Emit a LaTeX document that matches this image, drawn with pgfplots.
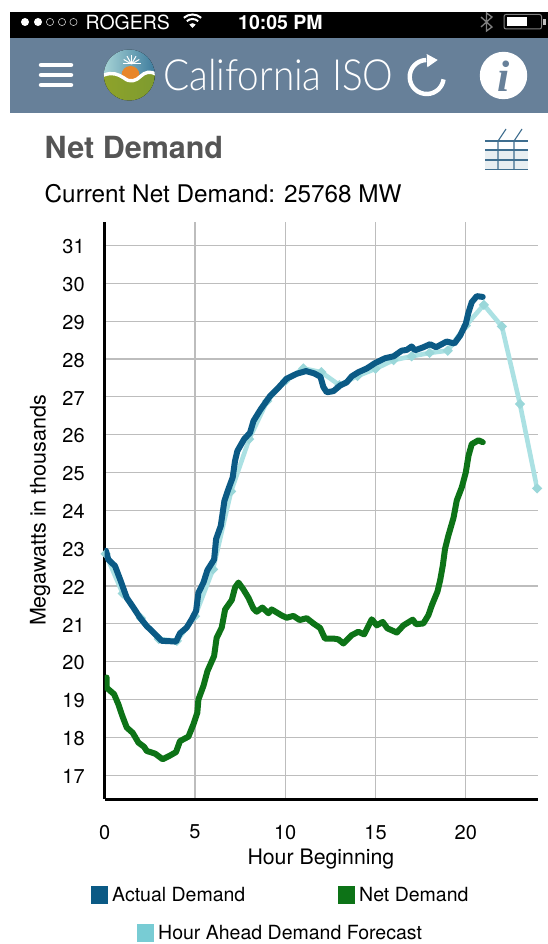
\documentclass[border=0pt]{standalone}
\usepackage{fontspec}
\setmainfont{TeX Gyre Heros}
\newfontfamily\calfont{Lato Light}
\newfontfamily\serifi{Liberation Serif}
\usepackage{pgfplots}
\pgfplotsset{compat=1.18}
\definecolor{hdr}{HTML}{678099}
\definecolor{actual}{HTML}{0B5A85}
\definecolor{net}{HTML}{0D7317}
\definecolor{fc}{HTML}{ABE1E3}
\definecolor{fcleg}{HTML}{78CCD4}
\definecolor{gridc}{HTML}{BDBDBD}
\definecolor{ttl}{HTML}{555555}
\definecolor{ico}{HTML}{3F6E8F}
\definecolor{skyl}{HTML}{A7D4D6}
\definecolor{skyr}{HTML}{3C7A9C}
\definecolor{grl}{HTML}{8FA32A}
\definecolor{grr}{HTML}{7C9A30}
\definecolor{grm}{HTML}{A9C04E}
\definecolor{orng}{HTML}{E8862A}
\begin{document}
\begin{tikzpicture}[x=1pt,y=-1pt]
\path[use as bounding box] (0,0) rectangle (548,944);
\fill[white] (0,0) rectangle (548,944);
% status bar + header
\fill[black] (10,12) rectangle (548,38);
\fill[hdr] (10,38) rectangle (548,113);
\foreach \cx in {25,38}{\fill[white] (\cx,22) circle (4);}
\foreach \cx in {50,62,73.5}{\draw[white!80!black,line width=.6pt] (\cx,22) circle (3.6);}
\node[white,anchor=west,inner sep=0,font=\fontsize{19.5}{20}\selectfont] at (85.5,22.5) {ROGERS};
\begin{scope}[white,line width=2pt]
\draw (192.5,27.5) ++(-132:13) arc[start angle=-132,end angle=-48,radius=13];
\draw (192.5,27.5) ++(-132:8.5) arc[start angle=-132,end angle=-48,radius=8.5];
\end{scope}
\fill[white] (192.5,28) -- ++(-132:4.8) arc[start angle=-132,end angle=-48,radius=4.8] -- cycle;
\node[white,anchor=west,inner sep=0,font=\fontsize{19.5}{20}\selectfont\bfseries] at (238,22.5) {10:05 PM};
\draw[gray,line width=1.3pt] (481,17) -- (492,27) -- (486.5,31) -- (486.5,13) -- (492,17) -- (481,27);
\draw[gray,line width=1pt,rounded corners=2pt] (504,14.5) rectangle (541.5,29);
\fill[white] (507,17) rectangle (526.5,26.5);
\fill[white!75!black] (543,19) rectangle (546,25);
% hamburger
\foreach \ly in {65,75,85}{\draw[white,line width=4.5pt,line cap=round] (41,\ly) -- (71,\ly);}
% logo
\begin{scope}
\clip (129.3,75) circle (25.5);
\fill[left color=skyl,right color=skyr] (103,49) rectangle (156,80);
\foreach \a in {0,30,...,180}{\draw[white,line width=1pt] (131.5,64) -- ++(-\a:9);}
\fill[orng] (130.5,75) circle (9);
\fill[left color=grl,middle color=grm,right color=grr] (100,75) -- (104,75) .. controls (112,72) and (118,74) .. (124,78) .. controls (130,83) and (136,81) .. (141,76) .. controls (145,72) and (150,71) .. (156,74) -- (160,74) -- (160,105) -- (100,105) -- cycle;
\draw[white,line width=3.4pt] (100,76) -- (104,75) .. controls (112,72) and (118,74) .. (124,78) .. controls (130,83) and (136,81) .. (141,76) .. controls (145,72) and (150,71) .. (156,74);
\end{scope}
\node[white,anchor=west,inner sep=0,xscale=.9,font=\calfont\fontsize{43}{45}\selectfont] at (163,75) {California ISO};
% refresh
\draw[white,line width=4.4pt] (426.7,77) ++(268:17) arc[start angle=268,end angle=8,radius=17];
\fill[white] (426.7,54) -- (437.7,60) -- (427.3,67.3) -- cycle;
% info
\fill[white] (503.5,75.5) circle (23.7);
\node[hdr,inner sep=0,font=\serifi\bfseries\itshape\fontsize{44}{44}\selectfont] at (503.5,76.5) {i};
% page title
\node[ttl,anchor=west,inner sep=0,font=\fontsize{30.5}{32}\selectfont\bfseries] at (44.5,148) {Net Demand};
\node[black,anchor=west,inner sep=0,font=\fontsize{24.3}{26}\selectfont] at (44.5,194) {Current Net Demand: 25768 MW};
% grid icon
\fill[ico!12] (485,150) rectangle (528,170);
\foreach \ly in {141,150,160,169.5}{\draw[ico,line width=1.3pt] (485,\ly) -- (528,\ly);}
\foreach \lx in {498,514}{\draw[ico,line width=1.1pt] (\lx,170) -- (\lx,141) -- (\lx+8,129);}
% chart
\begin{axis}[
  at={(104.7pt,-799pt)},anchor=south west,
  scale only axis,width=433.3pt,height=577pt,
  xmin=0,xmax=24,ymin=16.37,ymax=31.62,
  axis x line=bottom,axis y line=left,
  axis line style={-,line width=3pt,black},
  xtick={0,5,10,15,20},ytick={17,18,...,31},
  major tick length=0pt,
  grid=major,grid style={gridc,line width=1.1pt},
  ticklabel style={font=\fontsize{20}{22}\selectfont,black},
  /pgf/number format/assume math mode=true,
  xticklabel style={yshift=-22.5pt},
  yticklabel style={xshift=-16.5pt,yshift=-1.3pt},
  xlabel={Hour Beginning},ylabel={Megawatts in thousands},
  every axis x label/.style={at={(axis description cs:0.499,-0.1035)},anchor=center,font=\fontsize{21.3}{23}\selectfont},
  every axis y label/.style={at={(axis description cs:-0.149,0.5)},rotate=90,anchor=center,font=\fontsize{21.5}{23}\selectfont},
  clip=true,clip mode=individual,
]
\addplot[fc,line width=4.6pt,mark=*,mark size=1.9pt,mark options={fc!90!teal,draw=none}] coordinates {
(0.05,22.85)(1,21.8)(2,21.15)(3,20.6)(4,20.55)(5,21.2)(6,22.44)(7,24.5)(8,25.88)(9,26.89)(10,27.42)(11,27.75)(12,27.65)(13,27.31)(14,27.55)(15,27.74)(16,27.97)(17,28.07)(18,28.16)(19,28.22)(20,28.88)(21,29.43)(22,28.86)(23,26.81)(23.95,24.58)};
\addplot[actual,line width=6pt,line join=round,line cap=round] coordinates {
(0.07,22.93)(0.2,22.70)(0.57,22.53)(0.85,22.18)(1.22,21.69)(1.59,21.43)(1.96,21.16)(2.33,20.94)(2.7,20.77)(3.16,20.55)(3.62,20.54)(3.95,20.53)(4.17,20.75)(4.54,20.90)(4.82,21.12)(5.06,21.34)(5.19,21.82)(5.47,22.09)(5.69,22.42)(6.06,22.70)(6.17,23.24)(6.43,23.59)(6.63,24.25)(6.85,24.56)(7.09,24.87)(7.22,25.31)(7.35,25.57)(7.72,25.88)(8.05,26.05)(8.24,26.36)(8.64,26.67)(9.16,27.02)(9.62,27.24)(10.08,27.48)(10.64,27.61)(11.15,27.68)(11.6,27.62)(11.95,27.53)(12.11,27.26)(12.3,27.12)(12.67,27.15)(13.04,27.30)(13.4,27.38)(13.68,27.54)(14.05,27.65)(14.52,27.75)(14.97,27.89)(15.53,28.02)(16.0,28.07)(16.45,28.22)(16.73,28.24)(17.0,28.33)(17.19,28.23)(17.65,28.31)(18.02,28.39)(18.35,28.31)(18.94,28.46)(19.37,28.41)(19.69,28.62)(20.0,28.93)(20.15,29.23)(20.33,29.50)(20.61,29.66)(20.94,29.64)};
\addplot[net,line width=6pt,line join=round,line cap=round] coordinates {
(0.11,19.58)(0.11,19.31)(0.52,19.14)(0.76,18.87)(0.98,18.56)(1.22,18.26)(1.55,18.12)(1.87,17.86)(2.18,17.75)(2.33,17.64)(2.79,17.57)(3.21,17.42)(3.62,17.52)(3.95,17.61)(4.17,17.90)(4.64,18.02)(4.91,18.34)(5.13,18.65)(5.19,19.0)(5.47,19.36)(5.69,19.75)(6.06,20.15)(6.2,20.63)(6.48,20.90)(6.67,21.38)(7.04,21.63)(7.22,21.96)(7.41,22.09)(7.68,21.91)(7.96,21.69)(8.24,21.40)(8.42,21.32)(8.73,21.43)(9.07,21.28)(9.25,21.38)(9.81,21.22)(10.08,21.16)(10.45,21.21)(10.8,21.10)(11.19,21.15)(11.56,21.01)(11.93,20.89)(12.2,20.61)(12.67,20.61)(12.94,20.59)(13.22,20.48)(13.68,20.70)(14.05,20.79)(14.37,20.72)(14.79,21.12)(15.07,20.96)(15.4,21.05)(15.66,20.88)(16.18,20.77)(16.55,20.96)(17.06,21.11)(17.25,20.99)(17.65,21.01)(17.93,21.23)(18.12,21.49)(18.43,21.85)(18.58,22.15)(18.73,22.55)(18.85,22.98)(19.04,23.34)(19.32,23.8)(19.5,24.26)(19.78,24.61)(20.0,25.0)(20.15,25.44)(20.33,25.75)(20.7,25.85)(20.94,25.8)};
\end{axis}
% legend
\fill[actual] (91,886) rectangle (108,904);
\node[anchor=west,inner sep=0,font=\fontsize{19.5}{21}\selectfont] at (112,895) {Actual Demand};
\fill[net] (338,886) rectangle (355,904);
\node[anchor=west,inner sep=0,font=\fontsize{19.5}{21}\selectfont] at (359,895) {Net Demand};
\fill[fcleg] (137,924) rectangle (154,942);
\node[anchor=west,inner sep=0,font=\fontsize{19.5}{21}\selectfont] at (158,933) {Hour Ahead Demand Forecast};
\end{tikzpicture}
\end{document}
